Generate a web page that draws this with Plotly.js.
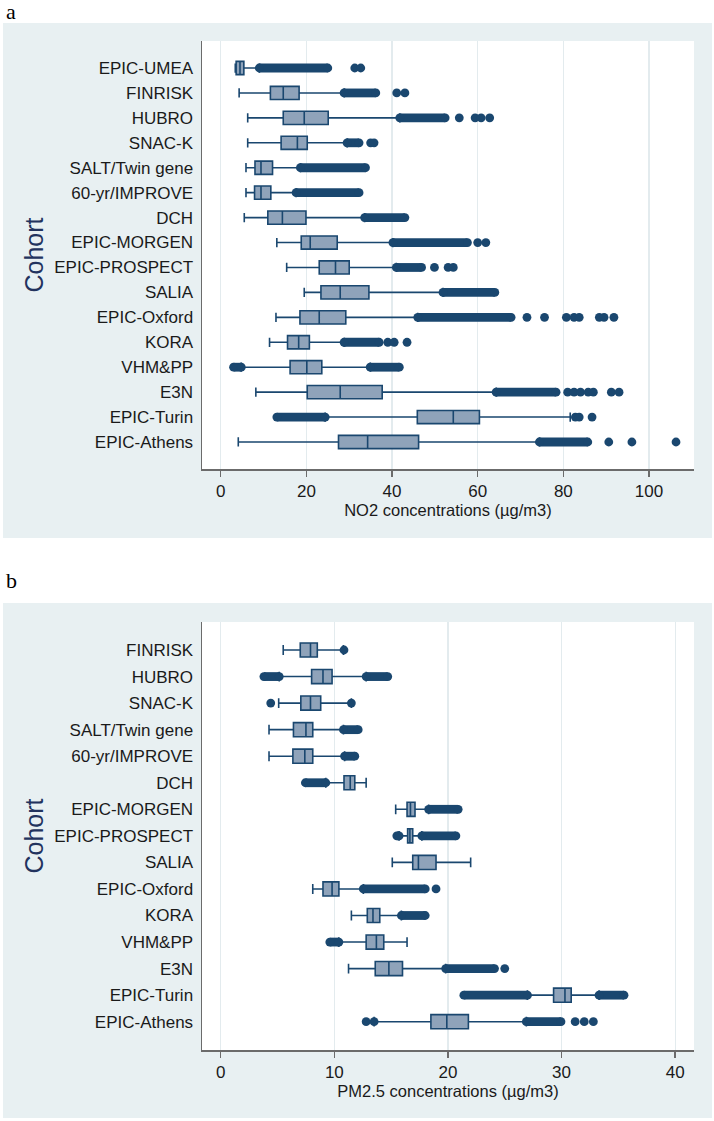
<!DOCTYPE html>
<html>
<head>
<meta charset="utf-8">
<script src="https://cdn.plot.ly/plotly-3.0.1.min.js"></script>
<style>
html,body{margin:0;padding:0;background:#fff;}
#chart{width:714px;height:1121px;}
</style>
</head>
<body>
<div id="chart"></div>
<script>
// ---------------- Panel a: NO2 ----------------
const cohortsA = ['EPIC-UMEA','FINRISK','HUBRO','SNAC-K','SALT/Twin gene','60-yr/IMPROVE','DCH','EPIC-MORGEN','EPIC-PROSPECT','SALIA','EPIC-Oxford','KORA','VHM&PP','E3N','EPIC-Turin','EPIC-Athens'];
const no2Q1     = [3.6, 11.6, 14.6, 14.1, 8.0, 7.9, 11.0, 18.8, 23.0, 23.4, 18.5, 15.6, 16.2, 20.2, 45.9, 27.5];
const no2Median = [4.5, 14.6, 19.5, 17.9, 9.4, 9.4, 14.4, 20.9, 26.8, 27.9, 23.0, 18.2, 20.1, 27.9, 54.3, 34.3];
const no2Q3     = [5.4, 18.3, 25.1, 20.2, 12.1, 11.7, 19.9, 27.2, 30.0, 34.6, 29.2, 20.7, 23.6, 37.7, 60.4, 46.2];
const no2LowerWhisker = [3.4, 4.3, 6.3, 6.3, 5.9, 5.9, 5.5, 13.1, 15.4, 19.5, 12.9, 11.4, 4.8, 8.2, 24.4, 4.1];
const no2UpperWhisker = [9.0, 28.8, 41.8, 29.5, 18.6, 17.6, 33.6, 40.2, 41.0, 51.9, 46.0, 28.8, 34.9, 64.3, 81.6, 74.4];
// dense runs of outliers: [from, to]
const no2OutlierRuns = [
  [[9.0, 25.0]],
  [[28.8, 36.2]],
  [[41.8, 52.4]],
  [[29.5, 32.3]],
  [[18.6, 33.8]],
  [[17.6, 32.3]],
  [[33.6, 43.0]],
  [[40.2, 57.6]],
  [[41.0, 46.9]],
  [[51.9, 64.0]],
  [[46.0, 67.8]],
  [[28.8, 37.0]],
  [[3.0, 4.8], [34.9, 41.7]],
  [[64.3, 78.3]],
  [[13.1, 24.4]],
  [[74.4, 85.7]]
];
// isolated outliers
const no2OutlierPoints = [
  [31.3, 32.7],
  [41.1, 43.0],
  [55.7, 59.4, 60.8, 62.8],
  [35.0, 35.8],
  [],
  [],
  [],
  [60.0, 61.9],
  [49.9, 53.1, 54.3],
  [],
  [71.5, 75.6, 80.7, 82.5, 83.7, 88.4, 89.5, 91.8],
  [39.0, 40.5, 43.5],
  [],
  [81.0, 82.5, 84.0, 85.8, 87.0, 91.2, 93.0],
  [82.8, 83.7, 86.7],
  [90.6, 96.0, 106.3]
];
const no2Ticks = [0, 20, 40, 60, 80, 100];

// ---------------- Panel b: PM2.5 ----------------
const cohortsB = ['FINRISK','HUBRO','SNAC-K','SALT/Twin gene','60-yr/IMPROVE','DCH','EPIC-MORGEN','EPIC-PROSPECT','SALIA','EPIC-Oxford','KORA','VHM&PP','E3N','EPIC-Turin','EPIC-Athens'];
const pmQ1     = [7.0, 8.0, 7.05, 6.4, 6.35, 10.85, 16.4, 16.45, 16.9, 9.0, 12.9, 12.8, 13.6, 29.3, 18.5];
const pmMedian = [7.9, 9.0, 7.9, 7.5, 7.4, 11.4, 16.7, 16.65, 17.4, 9.8, 13.4, 13.7, 14.8, 30.3, 19.9];
const pmQ3     = [8.5, 9.8, 8.8, 8.1, 8.1, 11.8, 17.1, 16.9, 18.95, 10.4, 14.0, 14.35, 16.0, 30.85, 21.8];
const pmLowerWhisker = [5.5, 5.15, 5.1, 4.25, 4.25, 9.25, 15.4, 15.7, 15.1, 8.1, 11.5, 10.4, 11.25, 27.0, 13.5];
const pmUpperWhisker = [10.8, 12.8, 11.5, 10.8, 10.9, 12.8, 18.3, 17.7, 22.0, 12.55, 15.9, 16.4, 19.8, 33.3, 26.9];
const pmOutlierRuns = [
  [],
  [[3.8, 5.15], [12.8, 14.7]],
  [],
  [[10.8, 12.1]],
  [[10.9, 11.8]],
  [[7.45, 9.25]],
  [[18.3, 20.9]],
  [[15.5, 15.7], [17.7, 20.7]],
  [],
  [[12.55, 18.0]],
  [[15.9, 18.0]],
  [[9.6, 10.4]],
  [[19.8, 24.1]],
  [[21.4, 27.0], [33.3, 35.5]],
  [[26.9, 29.95]]
];
const pmOutlierPoints = [
  [10.85],
  [],
  [4.4, 11.5],
  [],
  [],
  [],
  [],
  [],
  [],
  [18.95],
  [],
  [],
  [25.0],
  [],
  [12.8, 13.5, 31.2, 32.0, 32.8]
];
const pmTicks = [0, 10, 20, 30, 40];

// ---------------- styling ----------------
const NAVY = '#1a476f';
const BOXFILL = '#8fa3ba';
const AXIS = '#6b6b6b';
const GRID = '#e3ebee';
const OUTER = '#e8f0f2';
const FONT = 'Liberation Sans, Arial, sans-serif';

const W = 714, H = 1121, L = 202, R = 20, T = 41, B = 71;
const PW = W - L - R, PH = H - T - B;
const px2x = px => (px - L) / PW;
const py2y = py => (H - B - py) / PH;

function boxTrace(cats, q1, med, q3, lo, hi, xa, ya) {
  return {
    type: 'box', orientation: 'h', y: cats,
    q1: q1, median: med, q3: q3, lowerfence: lo, upperfence: hi,
    boxpoints: false, width: 0.53, whiskerwidth: 0.7,
    fillcolor: BOXFILL, line: {color: NAVY, width: 1.6},
    xaxis: xa, yaxis: ya, hoverinfo: 'skip', showlegend: false
  };
}
function runTrace(cats, runs, xa, ya) {
  const x = [], y = [];
  runs.forEach((list, i) => list.forEach(r => { x.push(r[0], r[1], null); y.push(cats[i], cats[i], null); }));
  return {
    type: 'scatter', mode: 'lines+markers', x: x, y: y, connectgaps: false,
    line: {color: NAVY, width: 8.8}, marker: {color: NAVY, size: 8.8},
    xaxis: xa, yaxis: ya, hoverinfo: 'skip', showlegend: false
  };
}
function pointTrace(cats, pts, xa, ya) {
  const x = [], y = [];
  pts.forEach((list, i) => list.forEach(v => { x.push(v); y.push(cats[i]); }));
  return {
    type: 'scatter', mode: 'markers', x: x, y: y,
    marker: {color: NAVY, size: 8.8},
    xaxis: xa, yaxis: ya, hoverinfo: 'skip', showlegend: false
  };
}

const data = [
  boxTrace(cohortsA, no2Q1, no2Median, no2Q3, no2LowerWhisker, no2UpperWhisker, 'x', 'y'),
  runTrace(cohortsA, no2OutlierRuns, 'x', 'y'),
  pointTrace(cohortsA, no2OutlierPoints, 'x', 'y'),
  boxTrace(cohortsB, pmQ1, pmMedian, pmQ3, pmLowerWhisker, pmUpperWhisker, 'x2', 'y2'),
  runTrace(cohortsB, pmOutlierRuns, 'x2', 'y2'),
  pointTrace(cohortsB, pmOutlierPoints, 'x2', 'y2')
];

function xAxis(range, ticks, title, anchor) {
  return {
    anchor: anchor, domain: [0, 1], range: range,
    tickmode: 'array', tickvals: ticks, ticktext: ticks.map(String),
    showgrid: true, gridcolor: GRID, gridwidth: 1.2, zeroline: false,
    showline: true, linecolor: AXIS, linewidth: 1.5,
    ticks: 'outside', ticklen: 6, tickwidth: 1.3, tickcolor: AXIS,
    tickfont: {family: FONT, size: 17, color: '#1a1a1a'},
    title: {text: title, font: {family: FONT, size: 16.5, color: '#1a1a1a'}, standoff: 2},
    automargin: false, fixedrange: true
  };
}
function yAxis(cats, range, domain, anchor) {
  return {
    anchor: anchor, domain: domain, type: 'category',
    categoryorder: 'array', categoryarray: cats, range: range,
    showgrid: false, zeroline: false,
    showline: true, linecolor: AXIS, linewidth: 1.5,
    ticks: '', ticklabelstandoff: 4,
    tickfont: {family: FONT, size: 17, color: '#1a1a1a'},
    title: {text: 'Cohort', font: {family: FONT, size: 25, color: '#22335e'}, standoff: 3},
    automargin: false, fixedrange: true
  };
}

const layout = {
  width: W, height: H,
  margin: {l: L, r: R, t: T, b: B, pad: 0},
  paper_bgcolor: '#ffffff', plot_bgcolor: '#ffffff',
  showlegend: false,
  xaxis: xAxis([-4.37, 110.5], no2Ticks, 'NO2 concentrations (µg/m3)', 'y'),
  yaxis: yAxis(cohortsA, [16.083, -1.083], [py2y(469), py2y(41)], 'x'),
  xaxis2: xAxis([-1.65, 41.66], pmTicks, 'PM2.5 concentrations (µg/m3)', 'y2'),
  yaxis2: yAxis(cohortsB, [15.066, -1.055], [py2y(1050), py2y(622)], 'x2'),
  shapes: [
    {type: 'rect', xref: 'paper', yref: 'paper', layer: 'below', x0: px2x(3), x1: px2x(712), y0: py2y(538), y1: py2y(23), fillcolor: OUTER, line: {width: 0}},
    {type: 'rect', xref: 'paper', yref: 'paper', layer: 'below', x0: px2x(202), x1: px2x(694), y0: py2y(469), y1: py2y(41), fillcolor: '#ffffff', line: {width: 0}},
    {type: 'rect', xref: 'paper', yref: 'paper', layer: 'below', x0: px2x(3), x1: px2x(712), y0: py2y(1118), y1: py2y(603), fillcolor: OUTER, line: {width: 0}},
    {type: 'rect', xref: 'paper', yref: 'paper', layer: 'below', x0: px2x(202), x1: px2x(694), y0: py2y(1050), y1: py2y(622), fillcolor: '#ffffff', line: {width: 0}}
  ],
  annotations: [
    {text: 'a', xref: 'paper', yref: 'paper', x: px2x(4), y: py2y(11), xanchor: 'left', yanchor: 'middle', showarrow: false, font: {family: 'Liberation Serif, Times New Roman, serif', size: 22, color: '#000'}},
    {text: 'b', xref: 'paper', yref: 'paper', x: px2x(4), y: py2y(580), xanchor: 'left', yanchor: 'middle', showarrow: false, font: {family: 'Liberation Serif, Times New Roman, serif', size: 22, color: '#000'}}
  ]
};

Plotly.newPlot('chart', data, layout, {displayModeBar: false, staticPlot: true});
</script>
</body>
</html>
